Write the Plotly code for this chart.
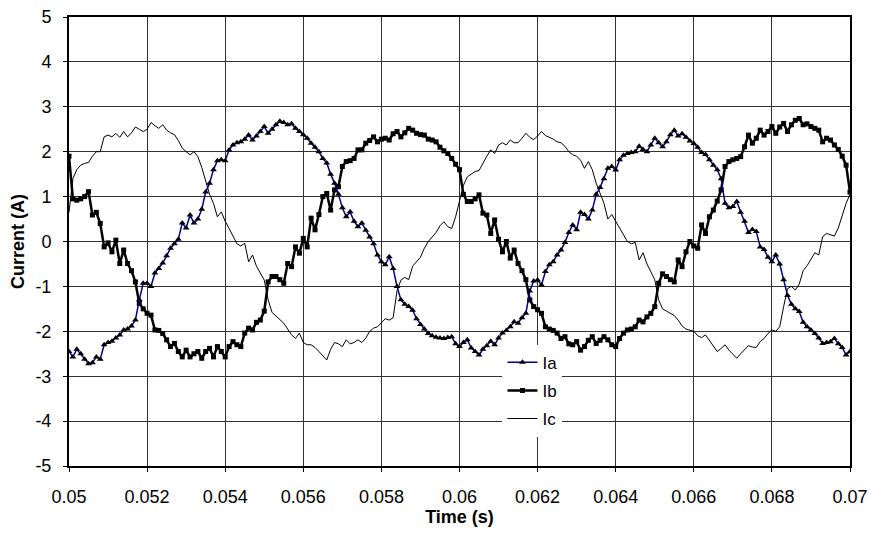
import plotly.graph_objects as go

t_start = 0.05
t_step = 0.0001

ia = [-2.45, -2.57, -2.40, -2.50, -2.62, -2.72, -2.70, -2.57, -2.62, -2.30,
      -2.25, -2.22, -2.15, -2.08, -1.97, -1.95, -1.88, -1.75, -1.30, -0.93,
      -0.93, -1.00, -0.70, -0.60, -0.48, -0.32, -0.15, -0.05, 0.05, 0.41,
      0.30, 0.59, 0.41, 0.50, 0.72, 1.10, 1.30, 1.60, 1.80, 1.82,
      1.80, 2.04, 2.15, 2.20, 2.22, 2.28, 2.37, 2.26, 2.35, 2.45,
      2.56, 2.41, 2.50, 2.60, 2.68, 2.65, 2.60, 2.62, 2.52, 2.45,
      2.38, 2.30, 2.19, 2.10, 2.00, 1.85, 1.75, 1.50, 1.30, 1.05,
      0.75, 0.55, 0.66, 0.45, 0.33, 0.41, 0.25, 0.10, -0.05, -0.30,
      -0.45, -0.52, -0.34, -0.60, -1.00, -1.30, -1.40, -1.45, -1.53, -1.72,
      -1.85, -1.95, -2.05, -2.10, -2.13, -2.15, -2.16, -2.14, -2.12, -2.28,
      -2.34, -2.25, -2.19, -2.37, -2.45, -2.53, -2.40, -2.32, -2.22, -2.30,
      -2.15, -2.04, -1.98, -1.90, -1.79, -1.82, -1.70, -1.60, -1.10, -0.88,
      -0.86, -0.97, -0.67, -0.52, -0.45, -0.30, -0.19, -0.02, 0.20, 0.37,
      0.26, 0.65, 0.60, 0.50, 0.70, 1.05, 1.20, 1.40, 1.63, 1.67,
      1.59, 1.82, 1.92, 1.96, 1.98, 2.00, 2.12, 2.05, 2.00, 2.15,
      2.30, 2.20, 2.11, 2.22, 2.38, 2.48, 2.35, 2.40, 2.32, 2.24,
      2.18, 2.10, 1.98, 1.94, 1.82, 1.70, 1.60, 1.40, 0.85, 0.75,
      0.78, 0.89, 0.65, 0.45, 0.20, 0.27, 0.22, -0.12, -0.18, -0.35,
      -0.45, -0.30, -0.50, -0.85, -1.20, -1.40, -1.50, -1.56, -1.80, -1.90,
      -1.97, -2.05, -2.15, -2.27, -2.25, -2.23, -2.16, -2.28, -2.36, -2.53,
      -2.45]

ib = [1.90, 0.95, 0.92, 0.95, 1.00, 1.11, 0.59, 0.65, 0.40, -0.12,
      -0.03, -0.23, 0.03, -0.49, -0.19, -0.49, -0.65, -0.90, -1.38, -1.50,
      -1.60, -1.64, -1.97, -1.98, -2.05, -2.19, -2.34, -2.27, -2.45, -2.57,
      -2.42, -2.57, -2.50, -2.45, -2.60, -2.45, -2.38, -2.57, -2.34, -2.45,
      -2.57, -2.34, -2.23, -2.30, -2.34, -2.04, -1.93, -1.97, -1.80, -1.75,
      -1.55, -0.90, -0.78, -0.78, -0.85, -0.93, -0.49, -0.56, -0.12, -0.26,
      0.07, -0.12, 0.52, 0.26, 0.60, 1.00, 1.07, 0.70, 1.15, 1.22,
      1.67, 1.78, 1.80, 1.85, 2.04, 2.04, 2.19, 2.25, 2.33, 2.22,
      2.28, 2.30, 2.26, 2.40, 2.45, 2.33, 2.42, 2.52, 2.48, 2.41,
      2.38, 2.37, 2.28, 2.26, 2.22, 2.10, 2.02, 1.96, 1.85, 1.72,
      1.60, 1.05, 0.89, 0.89, 0.95, 1.04, 0.63, 0.59, 0.18, 0.48,
      0.05, -0.23, 0.00, -0.37, -0.19, -0.49, -0.65, -0.85, -1.30, -1.45,
      -1.52, -1.60, -1.90, -1.95, -1.98, -2.04, -2.16, -2.12, -2.28, -2.30,
      -2.23, -2.42, -2.34, -2.20, -2.12, -2.27, -2.20, -2.12, -2.19, -2.30,
      -2.34, -2.16, -2.04, -1.97, -1.95, -1.90, -1.75, -1.79, -1.68, -1.60,
      -1.45, -0.93, -0.72, -0.78, -0.85, -0.90, -0.41, -0.56, -0.23, 0.00,
      -0.10, -0.15, 0.37, 0.18, 0.55, 0.70, 0.90, 1.15, 1.67, 1.78,
      1.82, 1.85, 1.89, 2.11, 2.37, 2.19, 2.30, 2.48, 2.37, 2.45,
      2.56, 2.41, 2.55, 2.63, 2.45, 2.60, 2.70, 2.74, 2.60, 2.62,
      2.56, 2.52, 2.48, 2.22, 2.30, 2.26, 2.15, 2.05, 1.90, 1.70,
      1.10]

ic = [0.65, 1.40, 1.60, 1.70, 1.74, 1.76, 1.90, 2.00, 2.00, 2.33,
      2.37, 2.33, 2.41, 2.32, 2.45, 2.33, 2.42, 2.55, 2.50, 2.45,
      2.50, 2.65, 2.58, 2.52, 2.60, 2.48, 2.42, 2.38, 2.25, 2.08,
      2.00, 1.93, 2.00, 1.89, 1.65, 1.35, 1.05, 0.85, 0.55, 0.66,
      0.45, 0.29, 0.12, -0.05, -0.10, -0.04, -0.45, -0.30, -0.55, -0.70,
      -0.86, -1.30, -1.58, -1.66, -1.75, -1.82, -1.95, -2.08, -2.16, -2.04,
      -2.25, -2.30, -2.30, -2.36, -2.45, -2.55, -2.64, -2.40, -2.25, -2.28,
      -2.34, -2.19, -2.28, -2.25, -2.19, -2.25, -2.15, -2.00, -1.93, -1.90,
      -1.80, -1.72, -1.75, -1.70, -1.10, -0.86, -0.80, -0.85, -0.55, -0.45,
      -0.35, -0.15, 0.00, 0.10, 0.20, 0.35, 0.44, 0.33, 0.29, 0.55,
      0.92, 1.25, 1.44, 1.50, 1.56, 1.58, 1.75, 1.90, 2.04, 1.96,
      2.15, 2.20, 2.15, 2.26, 2.20, 2.20, 2.30, 2.41, 2.32, 2.27,
      2.35, 2.45, 2.36, 2.32, 2.28, 2.22, 2.20, 2.12, 2.00, 1.93,
      1.90, 1.81, 1.63, 1.78, 1.60, 1.30, 1.05, 0.85, 0.50, 0.60,
      0.45, 0.30, 0.15, 0.00, -0.05, -0.02, -0.41, -0.25, -0.50, -0.68,
      -0.85, -1.30, -1.50, -1.55, -1.60, -1.65, -1.75, -1.88, -1.95, -1.98,
      -2.00, -2.10, -2.14, -2.08, -2.20, -2.32, -2.45, -2.38, -2.30, -2.42,
      -2.52, -2.60, -2.50, -2.40, -2.32, -2.35, -2.36, -2.23, -2.16, -2.05,
      -1.97, -2.00, -1.90, -1.45, -1.05, -1.00, -1.08, -0.95, -0.65, -0.54,
      -0.40, -0.25, -0.30, 0.11, 0.18, 0.15, 0.12, 0.30, 0.60, 0.85,
      1.05]

time = [round(t_start + k * t_step, 5) for k in range(len(ia))]

x_tick_vals = [0.05, 0.052, 0.054, 0.056, 0.058, 0.06, 0.062, 0.064, 0.066, 0.068, 0.07]
x_tick_text = ["0.05", "0.052", "0.054", "0.056", "0.058", "0.06", "0.062", "0.064", "0.066", "0.068", "0.07"]
y_tick_vals = [-5, -4, -3, -2, -1, 0, 1, 2, 3, 4, 5]
y_tick_text = ["-5", "-4", "-3", "-2", "-1", "0", "1", "2", "3", "4", "5"]

fig = go.Figure()
fig.add_trace(go.Scatter(
    x=time, y=ic, name="Ic", mode="lines",
    line=dict(color="black", width=1), legendgroup="c", legendrank=3))
fig.add_trace(go.Scatter(
    x=time, y=ib, name="Ib", mode="lines+markers",
    line=dict(color="black", width=2.5),
    marker=dict(symbol="square", size=5, color="black"),
    legendgroup="b", legendrank=2))
fig.add_trace(go.Scatter(
    x=time, y=ia, name="Ia", mode="lines+markers",
    line=dict(color="#000080", width=1.5),
    marker=dict(symbol="triangle-up", size=6, color="black"),
    legendgroup="a", legendrank=1))

font_family = "Liberation Sans, Arial, sans-serif"

fig.update_layout(
    width=871, height=533,
    margin=dict(l=69, r=21, t=17, b=67),
    paper_bgcolor="white", plot_bgcolor="white",
    font=dict(family=font_family, size=18, color="black"),
    showlegend=True,
    legend=dict(
        x=0.555, y=0.27, xanchor="left", yanchor="top",
        bgcolor="white", borderwidth=0,
        font=dict(size=17, color="black"),
        traceorder="grouped", tracegroupgap=3,
        itemwidth=30,
    ),
    xaxis=dict(
        range=[0.05, 0.07],
        tickmode="array", tickvals=x_tick_vals, ticktext=x_tick_text,
        showgrid=True, gridcolor="#333333", gridwidth=1,
        showline=True, linecolor="black", linewidth=2, mirror=True,
        ticks="outside", ticklen=4, tickcolor="black",
        ticklabelstandoff=9, ticklabeloverflow="allow",
        zeroline=False, automargin=False,
        title=dict(text="<b>Time (s)</b>", font=dict(size=18), standoff=1),
    ),
    yaxis=dict(
        range=[-5, 5],
        tickmode="array", tickvals=y_tick_vals, ticktext=y_tick_text,
        showgrid=True, gridcolor="#333333", gridwidth=1,
        showline=True, linecolor="black", linewidth=2, mirror=True,
        ticks="outside", ticklen=4, tickcolor="black",
        ticklabelstandoff=8, ticklabeloverflow="allow",
        zeroline=False, automargin=False,
        title=dict(text="<b>Current (A)</b>", font=dict(size=18), standoff=6),
    ),
)

# remove the default 8px page margin so the figure fills the window exactly
fig.write_html(
    "out.html",
    config={"displayModeBar": False},
    post_script="document.body.style.margin='0';",
)
